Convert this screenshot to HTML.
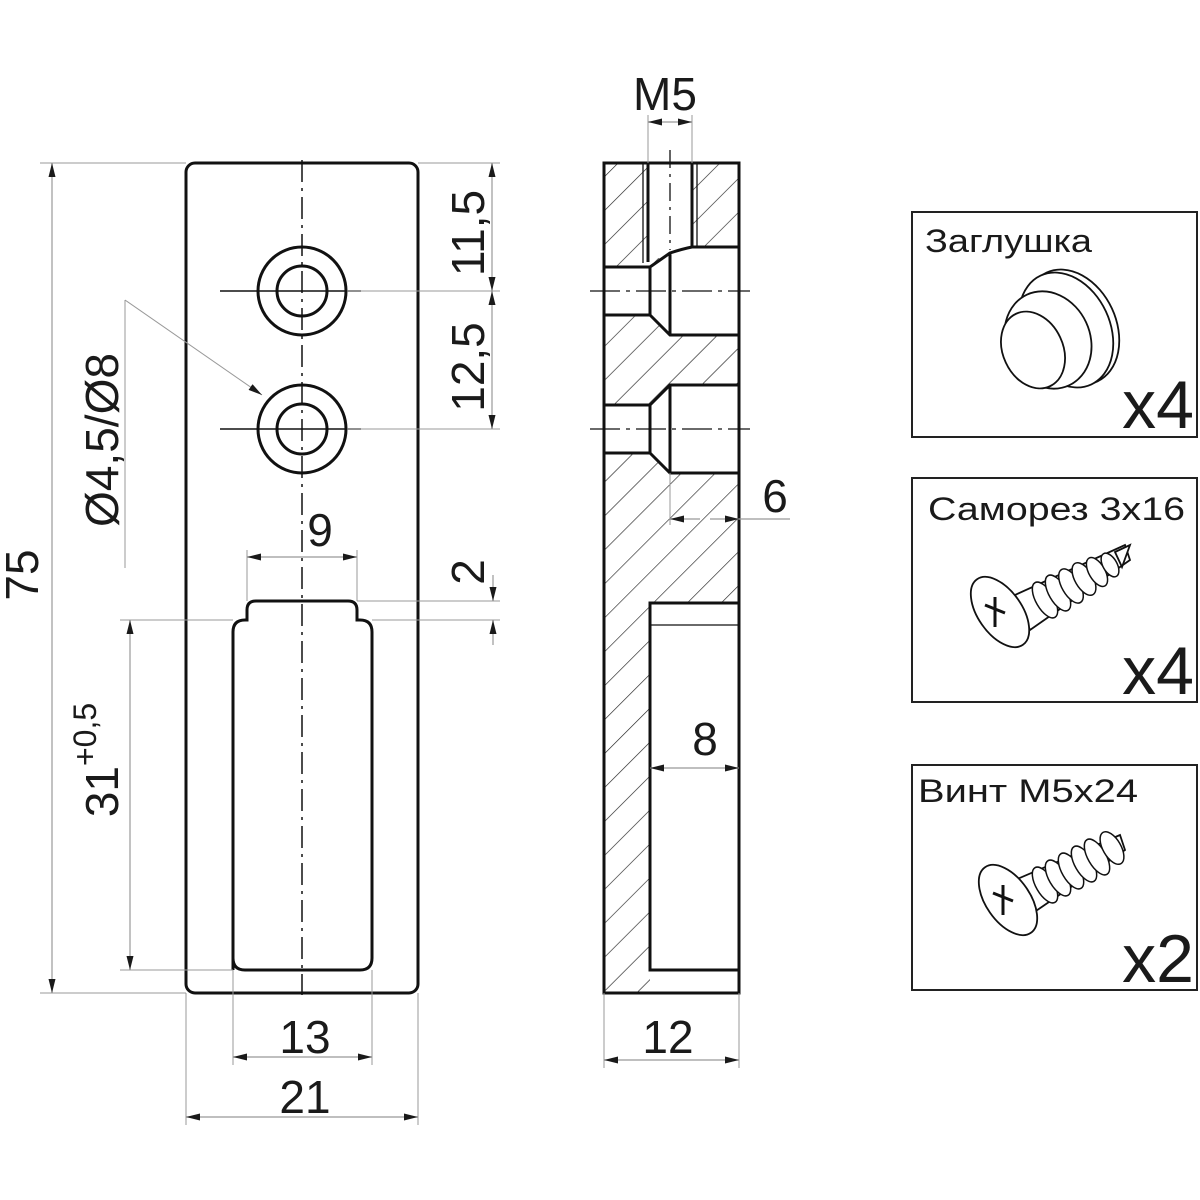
<!DOCTYPE html>
<html><head><meta charset="utf-8"><style>
html,body{margin:0;padding:0;background:#fff}
svg{display:block}
text{font-family:"Liberation Sans","DejaVu Sans",sans-serif;fill:#1a1a1a}
</style></head><body>
<svg width="1200" height="1200" viewBox="0 0 1200 1200" xmlns="http://www.w3.org/2000/svg">
<defs>
<pattern id="h" patternUnits="userSpaceOnUse" width="24" height="24" patternTransform="rotate(45)">
<line x1="0" y1="0" x2="0" y2="24" stroke="#222" stroke-width="1.3"/>
</pattern>
<marker id="a" viewBox="0 0 12 6" refX="12" refY="3" markerWidth="14" markerHeight="7" orient="auto-start-reverse" markerUnits="userSpaceOnUse"><path d="M0,0 L12,3 L0,6 Z" fill="#1a1a1a"/></marker>
</defs>
<!-- left view -->
<g fill="none" stroke="#111" stroke-width="3">
<rect x="186" y="163" width="232" height="830" rx="9"/>
<circle cx="302" cy="291" r="44"/><circle cx="302" cy="291" r="25"/>
<circle cx="302" cy="429" r="44"/><circle cx="302" cy="429" r="25"/>
<path d="M233,970 L233,632 Q233,620 245,620 L247,620 L247,610 Q247,601 256,601 L348,601 Q357,601 357,610 L357,620 L360,620 Q372,620 372,632 L372,958 Q372,970 360,970 L245,970 Q233,970 233,958"/>
</g>
<g stroke="#111" stroke-width="1.5" fill="none">
<line x1="302" y1="160" x2="302" y2="995" stroke-dasharray="22,6,3,6"/>
<line x1="220" y1="291" x2="361" y2="291"/><line x1="220" y1="429" x2="361" y2="429"/>
</g>
<!-- section view -->
<rect x="604" y="163" width="135" height="830" fill="url(#h)"/>
<g fill="#fff" stroke="none">
<rect x="648" y="163" width="44" height="95"/>
<path d="M604,267 L650,267 L670,253 L692,247 L739,247 L739,335 L670,335 L650,315 L604,315 Z"/>
<path d="M604,405 L650,405 L670,385 L739,385 L739,473 L670,473 L650,453 L604,453 Z"/>
<rect x="650" y="603" width="89" height="390"/>
</g>
<g fill="none" stroke="#111" stroke-width="3">
<rect x="604" y="163" width="135" height="830"/>
<path d="M648,163 L648,262 M692,163 L692,247"/>
<path d="M604,267 L650,267 L650,315 L604,315 M650,267 L670,253 Q682,249 692,247 L739,247 M650,315 L670,335 L739,335 M670,253 L670,335"/>
<path d="M604,405 L650,405 L650,453 L604,453 M650,405 L670,385 L739,385 M650,453 L670,473 L739,473 M670,385 L670,473"/>
<path d="M739,603 L650,603 L650,970 L739,970"/>
</g>
<g stroke="#111" stroke-width="1.3" fill="none">
<line x1="643" y1="163" x2="643" y2="263"/><line x1="697" y1="163" x2="697" y2="247"/>
<line x1="650" y1="625" x2="739" y2="625"/>
<line x1="670" y1="150" x2="670" y2="250" stroke-dasharray="18,6,3,6"/>
<line x1="590" y1="291" x2="750" y2="291" stroke-dasharray="30,6,4,6"/>
<line x1="590" y1="429" x2="750" y2="429" stroke-dasharray="30,6,4,6"/>
</g>
<!-- dims -->
<g fill="none" stroke="#999" stroke-width="1">
<line x1="40" y1="163" x2="186" y2="163"/><line x1="40" y1="993" x2="186" y2="993"/>
<line x1="418" y1="163" x2="500" y2="163"/><line x1="347" y1="291" x2="500" y2="291"/><line x1="347" y1="429" x2="500" y2="429"/>
<line x1="357" y1="601" x2="500" y2="601"/><line x1="372" y1="620" x2="500" y2="620"/>
<line x1="120" y1="620" x2="233" y2="620"/><line x1="120" y1="970" x2="233" y2="970"/>
<line x1="247" y1="550" x2="247" y2="601"/><line x1="357" y1="550" x2="357" y2="601"/>
<line x1="233" y1="970" x2="233" y2="1065"/><line x1="372" y1="970" x2="372" y2="1065"/>
<line x1="186" y1="993" x2="186" y2="1125"/><line x1="418" y1="993" x2="418" y2="1125"/>
<line x1="125" y1="568" x2="125" y2="300"/><line x1="125" y1="300" x2="262" y2="395" marker-end="url(#a)"/>
<line x1="648" y1="115" x2="648" y2="163"/><line x1="692" y1="115" x2="692" y2="163"/>
<line x1="670" y1="473" x2="670" y2="525"/>
<line x1="604" y1="993" x2="604" y2="1068"/><line x1="739" y1="993" x2="739" y2="1068"/>
</g>
<g fill="none" stroke="#999" stroke-width="1.2">
<line x1="52" y1="163" x2="52" y2="993" marker-start="url(#a)" marker-end="url(#a)"/>
<line x1="492" y1="163" x2="492" y2="291" marker-start="url(#a)" marker-end="url(#a)"/>
<line x1="492" y1="291" x2="492" y2="429" marker-start="url(#a)" marker-end="url(#a)"/>
<line x1="493" y1="575" x2="493" y2="601" marker-end="url(#a)"/>
<line x1="493" y1="645" x2="493" y2="620" marker-end="url(#a)"/>
<line x1="130" y1="620" x2="130" y2="970" marker-start="url(#a)" marker-end="url(#a)"/>
<line x1="247" y1="557" x2="357" y2="557" marker-start="url(#a)" marker-end="url(#a)"/>
<line x1="233" y1="1057" x2="372" y2="1057" marker-start="url(#a)" marker-end="url(#a)"/>
<line x1="186" y1="1117" x2="418" y2="1117" marker-start="url(#a)" marker-end="url(#a)"/>
<line x1="670" y1="122" x2="648" y2="122" marker-end="url(#a)"/><line x1="670" y1="122" x2="692" y2="122" marker-end="url(#a)"/>
<line x1="700" y1="519" x2="670" y2="519" marker-end="url(#a)"/><line x1="710" y1="519" x2="739" y2="519" marker-end="url(#a)"/><line x1="739" y1="519" x2="790" y2="519"/>
<line x1="650" y1="768" x2="739" y2="768" marker-start="url(#a)" marker-end="url(#a)"/>
<line x1="604" y1="1060" x2="739" y2="1060" marker-start="url(#a)" marker-end="url(#a)"/>
</g>
<!-- texts -->
<g font-size="46">
<text x="665" y="110" text-anchor="middle">M5</text>
<text x="775" y="512" text-anchor="middle">6</text>
<text x="705" y="755" text-anchor="middle">8</text>
<text x="668" y="1053" text-anchor="middle">12</text>
<text x="305" y="1053" text-anchor="middle">13</text>
<text x="305" y="1113" text-anchor="middle">21</text>
<text x="320" y="546" text-anchor="middle">9</text>
<text transform="translate(38,575) rotate(-90)" text-anchor="middle">75</text>
<text transform="translate(484,233) rotate(-90)" text-anchor="middle">11,5</text>
<text transform="translate(484,367) rotate(-90)" text-anchor="middle">12,5</text>
<text transform="translate(484,572) rotate(-90)" text-anchor="middle">2</text>
<text transform="translate(118,440) rotate(-90)" text-anchor="middle">Ø4,5/Ø8</text>
<text transform="translate(118,760) rotate(-90)" text-anchor="middle">31<tspan font-size="32" dy="-22">+0,5</tspan></text>
</g>
<!-- boxes -->
<g fill="none" stroke="#222" stroke-width="2">
<rect x="912" y="212" width="285" height="225"/>
<rect x="912" y="478" width="285" height="224"/>
<rect x="912" y="765" width="285" height="225"/>
</g>
<g font-size="32">
<text x="925" y="252" textLength="167" lengthAdjust="spacingAndGlyphs">Заглушка</text>
<text x="928" y="520" textLength="257" lengthAdjust="spacingAndGlyphs">Саморез 3х16</text>
<text x="918" y="802" textLength="220" lengthAdjust="spacingAndGlyphs">Винт М5х24</text>
</g>
<g font-size="68" text-anchor="end">
<text x="1194" y="428">x4</text>
<text x="1194" y="694">x4</text>
<text x="1194" y="982">x2</text>
</g>
<!-- plug icon -->
<g fill="#fff" stroke="#111" stroke-width="1.8">
<ellipse cx="1072" cy="327" rx="44" ry="60" transform="rotate(-25 1072 327)"/>
<ellipse cx="1066" cy="330" rx="44" ry="60" transform="rotate(-25 1066 330)"/>
<ellipse cx="1048" cy="340" rx="42" ry="50" transform="rotate(-25 1048 340)"/>
<ellipse cx="1033" cy="350" rx="30" ry="40" transform="rotate(-25 1033 350)"/>
</g>
<!-- screw 1 -->
<g fill="#fff" stroke="#111" stroke-width="1.8">
<path d="M1015,595 L1125,545 L1130,560 L1030,630 Z"/>
<g stroke-width="1.5">
<ellipse cx="1045" cy="600" rx="9" ry="20" transform="rotate(-30 1045 600)"/>
<ellipse cx="1058" cy="593" rx="9" ry="20" transform="rotate(-30 1058 593)"/>
<ellipse cx="1071" cy="586" rx="9" ry="19" transform="rotate(-30 1071 586)"/>
<ellipse cx="1084" cy="579" rx="9" ry="18" transform="rotate(-30 1084 579)"/>
<ellipse cx="1097" cy="572" rx="8" ry="16" transform="rotate(-30 1097 572)"/>
<ellipse cx="1110" cy="565" rx="7" ry="13" transform="rotate(-30 1110 565)"/>
</g>
<path d="M1115,552 L1130,545 L1122,567 Z"/>
<ellipse cx="1000" cy="612" rx="22" ry="40" transform="rotate(-35 1000 612)"/>
<path d="M985,605 l20,8 m-10,-16 l0,30" stroke-width="3"/>
</g>
<!-- screw 2 -->
<g fill="#fff" stroke="#111" stroke-width="1.8">
<path d="M1015,880 L1120,835 L1125,850 L1030,915 Z"/>
<g stroke-width="1.5">
<ellipse cx="1045" cy="885" rx="9" ry="20" transform="rotate(-30 1045 885)"/>
<ellipse cx="1058" cy="878" rx="9" ry="20" transform="rotate(-30 1058 878)"/>
<ellipse cx="1071" cy="871" rx="9" ry="20" transform="rotate(-30 1071 871)"/>
<ellipse cx="1084" cy="864" rx="9" ry="20" transform="rotate(-30 1084 864)"/>
<ellipse cx="1097" cy="857" rx="9" ry="20" transform="rotate(-30 1097 857)"/>
<ellipse cx="1112" cy="848" rx="9" ry="18" transform="rotate(-30 1112 848)"/>
</g>
<ellipse cx="1008" cy="900" rx="22" ry="40" transform="rotate(-35 1008 900)"/>
<path d="M993,893 l20,8 m-10,-16 l0,30" stroke-width="3"/>
</g>
</svg>
</body></html>
